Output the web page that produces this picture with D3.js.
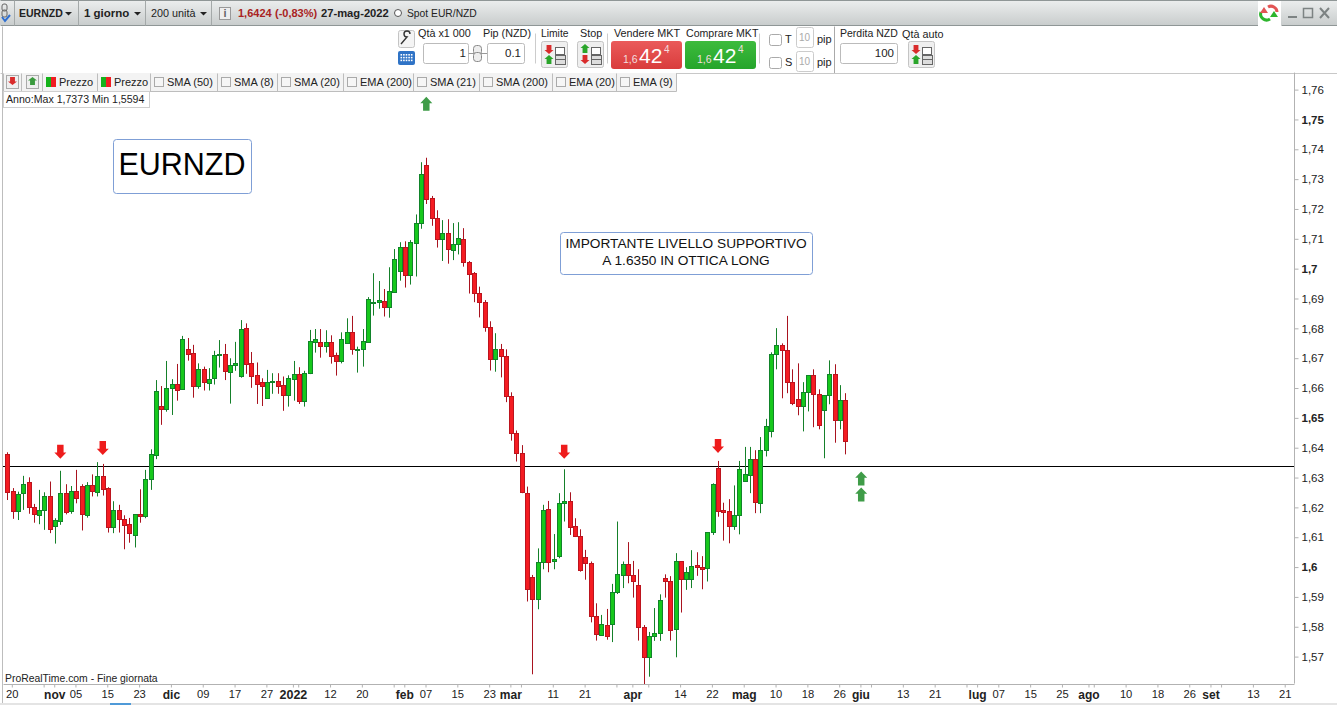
<!DOCTYPE html>
<html>
<head>
<meta charset="utf-8">
<title>EURNZD</title>
<script src="https://cdn.jsdelivr.net/npm/d3@7"></script>
<style>
  html, body { margin: 0; padding: 0; background: #fff; overflow: hidden; }
  svg { display: block; font-family: "Liberation Sans", Arial, sans-serif; }
</style>
</head>
<body>
<div id="viz"></div>
<script>
// access data

const opens = [
  1.6381,1.6255,1.6188,1.6249,1.6286,1.6202,1.6177,1.6192,1.6239,1.6138,
  1.6157,1.6249,1.6188,1.6255,1.6272,1.6177,1.6276,1.6252,1.6306,1.6266,
  1.6137,1.6192,1.6162,1.6145,1.6108,1.6178,1.6172,1.6296,1.6376,1.6541,
  1.6532,1.6601,1.6614,1.6597,1.6732,1.6719,1.6608,1.6664,1.6619,1.6636,
  1.6711,1.6716,1.6656,1.6678,1.6640,1.6802,1.6684,1.6644,1.6622,1.6569,
  1.6621,1.6624,1.6611,1.6579,1.6633,1.6647,1.6559,1.6651,1.6757,1.6754,
  1.6743,1.6754,1.6711,1.6693,1.6751,1.6788,1.6730,1.6731,1.6757,1.6887,
  1.6889,1.6892,1.6874,1.6924,1.6995,1.7073,1.6981,1.7088,1.7153,1.7348,
  1.7237,1.7172,1.7100,1.7120,1.7063,1.7083,1.7100,1.7023,1.6986,1.6919,
  1.6889,1.6805,1.6698,1.6731,1.6708,1.6574,1.6450,1.6383,1.6249,1.5967,
  1.5894,1.6017,1.6195,1.6021,1.6040,1.6215,1.6222,1.6138,1.6105,1.6035,
  1.6014,1.5837,1.5775,1.5807,1.5809,1.5917,1.5974,1.6011,1.5974,1.5941,
  1.5800,1.5699,1.5770,1.5780,1.5964,1.5954,1.5793,1.6021,1.5961,1.5961,
  1.6008,1.6000,1.5997,1.6118,1.6332,1.6192,1.6188,1.6138,1.6175,1.6289,
  1.6309,1.6363,1.6215,1.6393,1.6456,1.6714,1.6745,1.6728,1.6621,1.6564,
  1.6540,1.6587,1.6644,1.6580,1.6527,1.6577,1.6647,1.6493,1.6560
];
const highs = [
  1.6386,1.6266,1.6254,1.6307,1.6302,1.6213,1.6260,1.6252,1.6288,1.6165,
  1.6324,1.6279,1.6273,1.6327,1.6279,1.6286,1.6312,1.6353,1.6347,1.6269,
  1.6222,1.6210,1.6175,1.6166,1.6178,1.6262,1.6327,1.6396,1.6628,1.6608,
  1.6692,1.6631,1.6682,1.6776,1.6769,1.6746,1.6684,1.6673,1.6668,1.6726,
  1.6762,1.6749,1.6701,1.6756,1.6829,1.6818,1.6722,1.6687,1.6634,1.6662,
  1.6651,1.6651,1.6640,1.6644,1.6692,1.6671,1.6659,1.6796,1.6799,1.6799,
  1.6795,1.6778,1.6720,1.6788,1.6835,1.6843,1.6740,1.6799,1.6906,1.6986,
  1.6960,1.6933,1.7006,1.7067,1.7090,1.7093,1.7097,1.7183,1.7358,1.7373,
  1.7245,1.7197,1.7164,1.7167,1.7154,1.7157,1.7137,1.7027,1.6990,1.6941,
  1.6896,1.6825,1.6785,1.6749,1.6731,1.6587,1.6459,1.6410,1.6271,1.5975,
  1.6064,1.6210,1.6223,1.6112,1.6249,1.6329,1.6252,1.6165,1.6128,1.6059,
  1.6020,1.5880,1.5841,1.5861,1.5945,1.6154,1.6020,1.6085,1.6022,1.5994,
  1.5807,1.5784,1.5864,1.5910,1.5977,1.5971,1.6048,1.6021,1.6001,1.6058,
  1.6051,1.6038,1.6118,1.6282,1.6357,1.6217,1.6229,1.6275,1.6357,1.6404,
  1.6404,1.6393,1.6437,1.6498,1.6721,1.6802,1.6751,1.6843,1.6664,1.6684,
  1.6621,1.6645,1.6664,1.6597,1.6577,1.6694,1.6681,1.6611,1.6584
];
const lows = [
  1.6226,1.6163,1.6159,1.6193,1.6180,1.6150,1.6145,1.6126,1.6115,1.6080,
  1.6143,1.6178,1.6180,1.6215,1.6124,1.6167,1.6238,1.6238,1.6241,1.6117,
  1.6115,1.6117,1.6061,1.6083,1.6067,1.6150,1.6165,1.6260,1.6363,1.6478,
  1.6522,1.6511,1.6559,1.6595,1.6693,1.6569,1.6599,1.6593,1.6593,1.6613,
  1.6670,1.6628,1.6549,1.6659,1.6636,1.6649,1.6602,1.6548,1.6541,1.6566,
  1.6582,1.6582,1.6525,1.6539,1.6559,1.6548,1.6539,1.6648,1.6720,1.6703,
  1.6720,1.6683,1.6643,1.6684,1.6749,1.6713,1.6653,1.6673,1.6753,1.6844,
  1.6867,1.6841,1.6837,1.6921,1.6961,1.6938,1.6948,1.6975,1.7135,1.7218,
  1.7145,1.7072,1.7027,1.7018,1.7030,1.7049,1.7008,1.6918,1.6889,1.6838,
  1.6790,1.6660,1.6656,1.6637,1.6554,1.6425,1.6355,1.6249,1.5886,1.5642,
  1.5860,1.5994,1.5984,1.5994,1.6031,1.6154,1.6109,1.6102,1.5986,1.5959,
  1.5816,1.5755,1.5771,1.5758,1.5750,1.5911,1.5931,1.5947,1.5899,1.5755,
  1.5594,1.5634,1.5754,1.5754,1.5899,1.5755,1.5699,1.5849,1.5925,1.5931,
  1.5972,1.5927,1.5953,1.6109,1.6170,1.6090,1.6081,1.6126,1.6111,1.6287,
  1.6249,1.6182,1.6182,1.6372,1.6436,1.6664,1.6567,1.6584,1.6544,1.6510,
  1.6456,1.6523,1.6470,1.6463,1.6366,1.6547,1.6418,1.6463,1.6379
];
const closes = [
  1.6254,1.6188,1.6245,1.6279,1.6201,1.6178,1.6192,1.6239,1.6128,1.6158,
  1.6249,1.6187,1.6255,1.6234,1.6178,1.6276,1.6255,1.6306,1.6262,1.6137,
  1.6192,1.6161,1.6144,1.6115,1.6178,1.6174,1.6296,1.6379,1.6592,1.6532,
  1.6601,1.6615,1.6596,1.6766,1.6717,1.6609,1.6664,1.6621,1.6632,1.6711,
  1.6716,1.6657,1.6678,1.6684,1.6799,1.6683,1.6643,1.6616,1.6609,1.6621,
  1.6624,1.6609,1.6579,1.6634,1.6647,1.6559,1.6651,1.6758,1.6765,1.6743,
  1.6754,1.6708,1.6693,1.6765,1.6788,1.6731,1.6732,1.6758,1.6899,1.6890,
  1.6895,1.6874,1.6925,1.7033,1.7073,1.6981,1.7090,1.7153,1.7317,1.7236,
  1.7172,1.7100,1.7120,1.7066,1.7083,1.7103,1.7023,1.6985,1.6919,1.6891,
  1.6805,1.6698,1.6731,1.6710,1.6574,1.6450,1.6383,1.6252,1.5927,1.5894,
  1.6017,1.6192,1.6020,1.6028,1.6215,1.6222,1.6135,1.6104,1.5993,1.6014,
  1.5836,1.5777,1.5810,1.5770,1.5917,1.5978,1.6011,1.5974,1.5954,1.5800,
  1.5699,1.5770,1.5780,1.5890,1.5954,1.5790,1.6021,1.5961,1.5984,1.6004,
  1.6000,1.5996,1.6118,1.6279,1.6188,1.6187,1.6138,1.6175,1.6329,1.6312,
  1.6363,1.6218,1.6393,1.6473,1.6714,1.6745,1.6728,1.6621,1.6550,1.6540,
  1.6587,1.6644,1.6580,1.6477,1.6577,1.6647,1.6493,1.6560,1.6424
];

const priceTicks = [1.76,1.75,1.74,1.73,1.72,1.71,1.7,1.69,1.68,1.67,1.66,1.65,1.64,1.63,1.62,1.61,1.6,1.59,1.58,1.57];
const boldPrices = [1.75,1.7,1.65,1.6];
const supportLevel = 1.6340;

// bar number of each label on the time axis, future bars included
const timeBars = [1,9,13,19,25,31,37,43,49,54,61,67,75,79,85,91,95,103,109,118,127,133,139,145,151,157,161,169,175,183,187,193,199,204,211,217,223,227,235,241];
const timeLabels = ["20","nov","05","15","23","dic","09","17","27","2022","12","20","feb","07","15","23","mar","11","21","apr","14","22","mag","10","18","26","giu","13","21","lug","07","15","25","ago","10","18","26","set","13","21"];
const boldTimes = ["nov","dic","2022","feb","mar","apr","mag","giu","lug","ago","set"];
// ticks with no label under them
const blankBars = [7,55,73,97,115,121,163,181,205,229];

const arrowBars = [10,18,105,134,79,161,161];
const arrowPrices = [1.6364,1.6377,1.6364,1.6384,1.7577,1.6322,1.6268];
const arrowKinds = ["down","down","down","down","up","up","up"];

const legendNames = ["Prezzo","Prezzo","SMA (50)","SMA (8)","SMA (20)","EMA (200)","SMA (21)","SMA (200)","EMA (20)","EMA (9)"];

const bars = opens.map((o, i) => ({i, o, h: highs[i], l: lows[i], c: closes[i]}));
const timeLabelOf = b => timeLabels[timeBars.indexOf(b)] || "";

// create dimensions

const dms = {
  width: 1337,
  height: 705,
  plotLeft: 3,
  plotRight: 1294,
  plotTop: 73,
  plotBottom: 684
};

// draw canvas

const svg = d3.select("#viz")
  .append("svg")
    .attr("width", dms.width)
    .attr("height", dms.height);

const defs = svg.append("defs");
const topGrad = defs.append("linearGradient").attr("id", "topGrad").attr("x2", 0).attr("y2", 1);
topGrad.append("stop").attr("offset", 0).attr("stop-color", "#eceeee");
topGrad.append("stop").attr("offset", 1).attr("stop-color", "#c9cdcd");
const redGrad = defs.append("linearGradient").attr("id", "redGrad").attr("x2", 0).attr("y2", 1);
redGrad.append("stop").attr("offset", 0).attr("stop-color", "#ea5a5a");
redGrad.append("stop").attr("offset", 1).attr("stop-color", "#d93c3c");
const greenGrad = defs.append("linearGradient").attr("id", "greenGrad").attr("x2", 0).attr("y2", 1);
greenGrad.append("stop").attr("offset", 0).attr("stop-color", "#3dbb3d");
greenGrad.append("stop").attr("offset", 1).attr("stop-color", "#25a52b");
defs.append("clipPath").attr("id", "plotClip")
  .append("rect")
    .attr("x", dms.plotLeft).attr("y", dms.plotTop)
    .attr("width", dms.plotRight - dms.plotLeft)
    .attr("height", dms.plotBottom - dms.plotTop);

// small helpers for the window furniture

function label(parent, x, y, str, o = {}) {
  return parent.append("text")
    .attr("x", x).attr("y", y)
    .attr("font-size", o.size || 12)
    .attr("font-weight", o.bold ? "bold" : "normal")
    .attr("fill", o.fill || "#222")
    .attr("text-anchor", o.anchor || "start")
    .text(str);
}

function box(parent, x, y, w, h, o = {}) {
  return parent.append("rect")
    .attr("x", x + .5).attr("y", y + .5)
    .attr("width", w).attr("height", h)
    .attr("rx", o.r || 0)
    .attr("fill", o.fill || "#fff")
    .attr("stroke", o.stroke || "#bbb");
}

function rule(parent, x1, y1, x2, y2, color = "#aaa") {
  return parent.append("line")
    .attr("x1", x1 + .5).attr("y1", y1 + .5)
    .attr("x2", x2 + .5).attr("y2", y2 + .5)
    .attr("stroke", color);
}

function blockArrow(parent, cx, tipY, dir, color, w = 12, h = 14) {
  const s = dir === "up" ? 1 : -1;
  const neck = tipY + s * h * .45;
  const end = tipY + s * h;
  return parent.append("path")
    .attr("d", `M${cx},${tipY}L${cx + w / 2},${neck}L${cx + w * .27},${neck}L${cx + w * .27},${end}L${cx - w * .27},${end}L${cx - w * .27},${neck}L${cx - w / 2},${neck}Z`)
    .attr("fill", color);
}

function caret(parent, x, y) {
  parent.append("path").attr("d", `M${x},${y}h7l-3.5,3.5z`).attr("fill", "#222");
}

function orderIcon(parent, x, y, kind) {
  box(parent, x, y, 26, 26, {fill: "#efefef", stroke: "#c4c4c4", r: 2});
  if (kind === "limit") {
    blockArrow(parent, x + 8, y + 13, "down", "#d92b2b", 9, 9);
    blockArrow(parent, x + 8, y + 14, "up", "#2aa52a", 9, 9);
  } else {
    blockArrow(parent, x + 8, y + 3, "up", "#2aa52a", 9, 9);
    blockArrow(parent, x + 8, y + 23, "down", "#d92b2b", 9, 9);
  }
  box(parent, x + 14, y + 6, 9, 7, {fill: "#fff", stroke: "#666"});
  box(parent, x + 14, y + 14, 10, 9, {fill: "#ddd", stroke: "#666"});
  rule(parent, x + 14, y + 18, x + 24, y + 18, "#666");
}

// window bars

const chrome = svg.append("g").attr("class", "chrome");

chrome.append("rect").attr("width", dms.width).attr("height", 25).attr("fill", "url(#topGrad)");
rule(chrome, 0, 25, 1258, 25, "#8f9696");
rule(chrome, 1281, 25, 1337, 25, "#8f9696");
rule(chrome, 0, 0, 1337, 0, "#8f9696");
[14, 78, 145, 211].forEach(x => rule(chrome, x, 0, x, 25, "#a4a9a9"));

// link glyph at the top left
chrome.append("rect").attr("x", 2).attr("y", 4).attr("width", 5).attr("height", 7).attr("rx", 2).attr("fill", "none").attr("stroke", "#666");
chrome.append("rect").attr("x", 2).attr("y", 10).attr("width", 5).attr("height", 7).attr("rx", 2).attr("fill", "none").attr("stroke", "#666");
chrome.append("path").attr("d", "M2,17l3,4l5,-6").attr("fill", "none").attr("stroke", "#2f6fd0").attr("stroke-width", 2);

label(chrome, 19, 17, "EURNZD", {bold: true, size: 10.5});
caret(chrome, 65, 12);
label(chrome, 84, 17, "1 giorno", {bold: true, size: 11.5});
caret(chrome, 134, 12);
label(chrome, 151, 17, "200 unità", {size: 10.8});
caret(chrome, 200, 12);
box(chrome, 219, 7, 11, 12, {fill: "#eee", stroke: "#999"});
label(chrome, 225, 17, "i", {size: 11, anchor: "middle", bold: true, fill: "#666"});
label(chrome, 238, 17, "1,6424", {bold: true, size: 11, fill: "#a92323"});
label(chrome, 275, 17, "(-0,83%)", {bold: true, size: 11, fill: "#a92323"});
label(chrome, 321, 17, "27-mag-2022", {bold: true, size: 11.2});
chrome.append("circle").attr("cx", 398).attr("cy", 13).attr("r", 3.5).attr("fill", "#fff").attr("stroke", "#555");
label(chrome, 407, 17, "Spot EUR/NZD", {size: 10.3});

// refresh tab and window buttons
chrome.append("rect").attr("x", 1258).attr("y", 1).attr("width", 23).attr("height", 25).attr("fill", "#fff");
chrome.append("path").attr("d", "M1277,12a6,6 0 0 0 -9,-5").attr("fill", "none").attr("stroke", "#e25555").attr("stroke-width", 3);
chrome.append("path").attr("d", "M1261,12a6,6 0 0 0 9,7").attr("fill", "none").attr("stroke", "#2db52d").attr("stroke-width", 3);
chrome.append("path").attr("d", "M1260,13l4,-6l4,6z").attr("fill", "#e25555");
chrome.append("path").attr("d", "M1270,11l4,6l4,-6z").attr("fill", "#2db52d").attr("transform", "rotate(180 1274 14)");
chrome.append("rect").attr("x", 1288).attr("y", 16).attr("width", 9).attr("height", 2).attr("fill", "#7d8383");
chrome.append("rect").attr("x", 1303.5).attr("y", 8.5).attr("width", 9).attr("height", 9).attr("fill", "none").attr("stroke", "#7d8383").attr("stroke-width", 1.5);
chrome.append("path").attr("d", "M1320,8l9,10M1329,8l-9,10").attr("stroke", "#7d8383").attr("stroke-width", 2);

// order ticket row

box(chrome, 398, 30, 16, 17, {fill: "#f4f4f4", stroke: "#c4c4c4", r: 2});
chrome.append("path").attr("d", "M401,44l6,-7a3,3 0 1 1 3,-3").attr("fill", "none").attr("stroke", "#333").attr("stroke-width", 1.4);
chrome.append("rect").attr("x", 398).attr("y", 51).attr("width", 17).attr("height", 14).attr("rx", 2).attr("fill", "#2f73c6");
d3.range(3).forEach(r => d3.range(5).forEach(c => {
  chrome.append("rect").attr("x", 400.5 + c * 2.6).attr("y", 54 + r * 2.8).attr("width", 1.6).attr("height", 1.6).attr("fill", "#fff");
}));

label(chrome, 418, 37, "Qtà x1 000", {size: 10.8});
label(chrome, 483, 37, "Pip (NZD)", {size: 10.8});
box(chrome, 423, 43, 45, 20, {r: 2});
label(chrome, 466, 57, "1", {size: 11.5, anchor: "end"});
rule(chrome, 468, 53, 487, 53, "#999");
chrome.append("rect").attr("x", 473.5).attr("y", 45.5).attr("width", 8).attr("height", 9).attr("rx", 3).attr("fill", "#eee").attr("stroke", "#888");
chrome.append("rect").attr("x", 473.5).attr("y", 52.5).attr("width", 8).attr("height", 9).attr("rx", 3).attr("fill", "#eee").attr("stroke", "#888");
box(chrome, 487, 43, 37, 20, {r: 2});
label(chrome, 521, 57, "0.1", {size: 11.5, anchor: "end"});
rule(chrome, 535, 33, 535, 63, "#ccc");

label(chrome, 541, 37, "Limite", {size: 10.3});
orderIcon(chrome, 541, 41, "limit");
rule(chrome, 607, 33, 607, 63, "#ccc");
label(chrome, 580, 37, "Stop", {size: 10.8});
orderIcon(chrome, 577, 41, "stop");

label(chrome, 614, 37, "Vendere MKT", {size: 10.8});
label(chrome, 686, 37, "Comprare MKT", {size: 10.6});
chrome.append("rect").attr("x", 611).attr("y", 41).attr("width", 71).attr("height", 28).attr("rx", 3).attr("fill", "url(#redGrad)");
chrome.append("rect").attr("x", 685).attr("y", 41).attr("width", 71).attr("height", 28).attr("rx", 3).attr("fill", "url(#greenGrad)");
[[623, 639, 664], [697, 713, 738]].forEach(([a, b, c]) => {
  label(chrome, a, 63, "1,6", {size: 10.5, fill: "#f3dede"});
  label(chrome, b, 63, "42", {size: 21, fill: "#fff"});
  label(chrome, c, 53, "4", {size: 10, fill: "#f3dede"});
});
rule(chrome, 759, 33, 759, 63, "#ccc");

[["T", 27, 34], ["S", 51, 57]].forEach(([name, boxY, checkY]) => {
  box(chrome, 769, checkY, 12, 11, {fill: "#fff", stroke: "#aaa", r: 2});
  label(chrome, 785, checkY + 9, name, {size: 11});
  box(chrome, 796, boxY, 17, 20, {fill: "#fff", stroke: "#ccc", r: 2});
  label(chrome, 804.5, boxY + 14, "10", {size: 10, fill: "#aaa", anchor: "middle"});
  label(chrome, 817, checkY + 9, "pip", {size: 11});
});
rule(chrome, 834, 26, 834, 73, "#aaa");
label(chrome, 840, 37, "Perdita NZD", {size: 10.5});
label(chrome, 902, 38, "Qtà auto", {size: 10.8});
box(chrome, 840, 43, 57, 20, {r: 2});
label(chrome, 894, 57, "100", {size: 11.5, anchor: "end"});
orderIcon(chrome, 908, 41, "limit");

// create scales

const xScale = d3.scaleLinear()
  .domain([0, bars.length - 1])
  .range([7.3, 845.3]);

const yScale = d3.scaleLinear()
  .domain([1.76, 1.57])
  .range([90, 657]);

const colors = {
  up: {fill: "#16c81c", edge: "#11842a", wick: "#15802a"},
  down: {fill: "#f41c22", edge: "#bc141e", wick: "#a9131f"}
};
const tone = d => d.c >= d.o ? colors.up : colors.down;
const px = i => Math.round(xScale(i));

// draw peripherals

const axisColor = "#b2b2b2";
const plotFrame = svg.append("g");
rule(plotFrame, 0, 73, 1337, 73, "#c8c8c8");
rule(plotFrame, 2, 26, 2, 705, "#bdbdbd");
rule(plotFrame, 3, dms.plotBottom, dms.plotRight, dms.plotBottom, axisColor);

const yAxis = d3.axisRight(yScale)
  .tickValues(priceTicks)
  .tickSize(4)
  .tickPadding(3)
  .tickFormat(d => String(d).replace(".", ","));

const yAxisG = svg.append("g")
  .attr("transform", `translate(${dms.plotRight + .5},-0.4)`)
  .call(yAxis);
yAxisG.select(".domain").attr("d", `M0,${dms.plotTop}V${dms.plotBottom}`).attr("stroke", axisColor);
yAxisG.selectAll(".tick line").attr("stroke", axisColor);
yAxisG.selectAll(".tick text")
  .attr("font-family", "'Liberation Sans', Arial, sans-serif")
  .attr("font-size", 11.5)
  .attr("fill", "#222")
  .attr("font-weight", d => boldPrices.includes(d) ? "bold" : "normal");

const xAxis = d3.axisBottom(xScale)
  .tickValues(timeBars.concat(blankBars))
  .tickSize(3)
  .tickPadding(3)
  .tickFormat(timeLabelOf);

const xAxisG = svg.append("g")
  .attr("transform", `translate(-0.8,${dms.plotBottom + .5})`)
  .call(xAxis);
xAxisG.select(".domain").remove();
xAxisG.selectAll(".tick line").attr("stroke", axisColor);
xAxisG.selectAll(".tick text")
  .attr("font-family", "'Liberation Sans', Arial, sans-serif")
  .attr("fill", "#222")
  .attr("font-size", d => timeLabelOf(d) === "2022" ? 12.5 : boldTimes.includes(timeLabelOf(d)) ? 12 : 11.2)
  .attr("font-weight", d => boldTimes.includes(timeLabelOf(d)) ? "bold" : "normal");

// scrollbar strip under the time axis
svg.append("rect").attr("x", 0).attr("y", 703).attr("width", dms.width).attr("height", 2).attr("fill", "#e4e4e4");
svg.append("rect").attr("x", 110).attr("y", 703).attr("width", 21).attr("height", 2).attr("fill", "#4f9ad8");

// draw data

const plot = svg.append("g").attr("clip-path", "url(#plotClip)");

plot.append("line")
  .attr("x1", dms.plotLeft)
  .attr("x2", dms.plotRight)
  .attr("y1", Math.round(yScale(supportLevel)) + .5)
  .attr("y2", Math.round(yScale(supportLevel)) + .5)
  .attr("stroke", "#000");

const candles = plot.selectAll("g.candle")
  .data(bars)
  .enter()
  .append("g")
    .attr("class", "candle");

candles.append("line")
  .attr("x1", d => px(d.i) + .5)
  .attr("x2", d => px(d.i) + .5)
  .attr("y1", d => yScale(d.h))
  .attr("y2", d => yScale(d.l))
  .attr("stroke", d => tone(d).wick);

candles.append("rect")
  .attr("x", d => px(d.i) - 1.5)
  .attr("y", d => Math.round(yScale(Math.max(d.o, d.c))) + .5)
  .attr("width", 4)
  .attr("height", d => Math.max(1, Math.round(yScale(Math.min(d.o, d.c))) - Math.round(yScale(Math.max(d.o, d.c)))))
  .attr("fill", d => tone(d).fill)
  .attr("stroke", d => tone(d).edge);

// signal arrows

arrowBars.forEach((b, i) => {
  blockArrow(plot, xScale(b), yScale(arrowPrices[i]), arrowKinds[i],
    arrowKinds[i] === "up" ? "#3f9c48" : "#ee1c1c");
});

// legend strip over the plot

const legend = svg.append("g").attr("class", "legend");
const legendEdges = [3, 21, 42, 97, 150, 217, 277, 343, 413, 479, 552, 616, 676];
legend.append("rect").attr("x", 3).attr("y", 73).attr("width", 673).attr("height", 18).attr("fill", "#f3f3f3");
rule(legend, 3, 91, 676, 91, "#bdbdbd");
legendEdges.forEach(x => rule(legend, x, 73, x, 91, "#bdbdbd"));

box(legend, 6, 75, 12, 13, {fill: "#efefef", stroke: "#aaa"});
blockArrow(legend, 12.5, 85, "down", "#d92b2b", 9, 8);
box(legend, 26, 75, 12, 13, {fill: "#efefef", stroke: "#aaa"});
blockArrow(legend, 32.5, 77, "up", "#3a9a3e", 9, 8);

legendNames.forEach((name, i) => {
  const left = legendEdges[i + 2];
  if (name === "Prezzo") {
    legend.append("rect").attr("x", left + 4).attr("y", 77).attr("width", 5).attr("height", 10).attr("fill", "#14b21a");
    legend.append("rect").attr("x", left + 9).attr("y", 77).attr("width", 5).attr("height", 10).attr("fill", "#f01c22");
  } else {
    box(legend, left + 4, 77, 9, 9, {fill: "#f6f6f6", stroke: "#aaa"});
  }
  label(legend, left + 17, 86, name, {size: 11});
});

box(legend, 3, 91, 146, 16, {fill: "#fff", stroke: "#cfcfcf"});
label(legend, 6, 103, "Anno:Max 1,7373 Min 1,5594", {size: 10.6});

// notes on the chart

const notes = svg.append("g").attr("class", "notes");
box(notes, 113, 139, 138, 54, {r: 3, stroke: "#7f9fd6"});
label(notes, 182, 175, "EURNZD", {size: 30.5, anchor: "middle", fill: "#000"});
box(notes, 560, 232, 252, 42, {r: 3, stroke: "#7f9fd6"});
label(notes, 686, 248, "IMPORTANTE LIVELLO SUPPORTIVO", {size: 13.7, anchor: "middle", fill: "#111"});
label(notes, 686, 265, "A 1.6350 IN OTTICA LONG", {size: 13.7, anchor: "middle", fill: "#111"});
label(notes, 5, 682, "ProRealTime.com - Fine giornata", {size: 10.4});
</script>
</body>
</html>
